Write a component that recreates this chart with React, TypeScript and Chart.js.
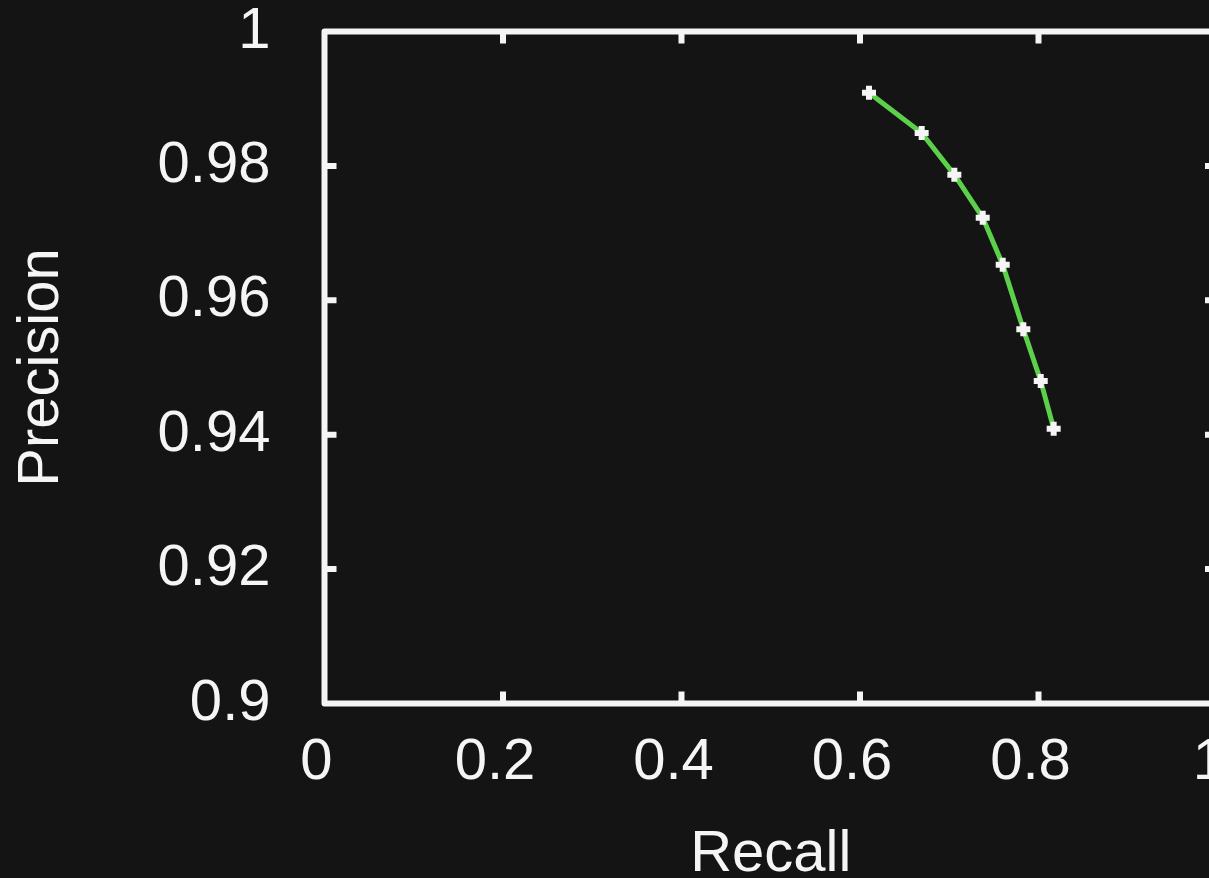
import React, { useEffect, useRef } from "react";
import { Chart, registerables } from "chart.js";

Chart.register(...registerables);

const recall = [0.6101, 0.6691, 0.7057, 0.7375, 0.7599, 0.783, 0.8025, 0.817];
const precision = [0.9909, 0.9849, 0.9787, 0.9723, 0.9653, 0.9557, 0.948, 0.9409];
const xTicks = [0, 0.2, 0.4, 0.6, 0.8, 1];
const yTicks = [0.9, 0.92, 0.94, 0.96, 0.98, 1];
const xTitle = "Recall";
const yTitle = "Precision";

const BG = "#141414";
const FG = "#f5f5f5";
const GREEN = "#5ccf4b";
const FONT = "'Liberation Sans', Arial, Helvetica, sans-serif";
const W = 1300;
const H = 900;

const framePlugin = {
  id: "frame",
  beforeDraw(chart: any) {
    const { ctx } = chart;
    ctx.save();
    ctx.fillStyle = BG;
    ctx.fillRect(0, 0, chart.width, chart.height);
    ctx.restore();
  },
  beforeDatasetsDraw(chart: any) {
    const { ctx, chartArea } = chart;
    const { left, right, top, bottom } = chartArea;
    const xs = chart.scales.x;
    const ys = chart.scales.y;
    const tl = 12;
    ctx.save();
    ctx.strokeStyle = FG;
    ctx.lineWidth = 6;
    ctx.lineCap = "butt";
    ctx.beginPath();
    xTicks.forEach((v) => {
      const px = xs.getPixelForValue(v);
      if (v === xTicks[0] || v === xTicks[xTicks.length - 1]) return;
      ctx.moveTo(px, bottom);
      ctx.lineTo(px, bottom - tl);
      ctx.moveTo(px, top);
      ctx.lineTo(px, top + tl);
    });
    yTicks.forEach((v) => {
      const py = ys.getPixelForValue(v);
      if (v === yTicks[0] || v === yTicks[yTicks.length - 1]) return;
      ctx.moveTo(left, py);
      ctx.lineTo(left + tl, py);
      ctx.moveTo(right, py);
      ctx.lineTo(right - tl, py);
    });
    ctx.stroke();
    ctx.lineJoin = "round";
    ctx.strokeRect(left, top, right - left, bottom - top);
    ctx.restore();
  },
};

export default function App() {
  const ref = useRef<HTMLCanvasElement | null>(null);
  useEffect(() => {
    if (!ref.current) return;
    const chart = new Chart(ref.current, {
      type: "line",
      data: {
        datasets: [
          {
            data: recall.map((r, i) => ({ x: r, y: precision[i] })),
            borderColor: GREEN,
            borderWidth: 5,
            backgroundColor: FG,
            pointStyle: "cross",
            pointRadius: 7,
            pointBorderWidth: 6,
            pointBorderColor: FG,
            pointBackgroundColor: FG,
            tension: 0,
            fill: false,
          },
        ],
      },
      options: {
        responsive: false,
        animation: false,
        events: [],
        layout: { padding: { top: 31.5, right: W - 1217, left: 0, bottom: 0 } },
        plugins: { legend: { display: false }, tooltip: { enabled: false } },
        scales: {
          x: {
            type: "linear",
            min: 0,
            max: 1,
            afterBuildTicks: (s: any) => {
              s.ticks = xTicks.map((v) => ({ value: v }));
            },
            afterFit: (s: any) => {
              s.height = H - 703.5;
              s.paddingLeft = 0;
              s.paddingRight = 0;
            },
            grid: { display: false, drawTicks: false },
            border: { display: false },
            ticks: {
              color: FG,
              font: { family: FONT, size: 58 },
              padding: 25,
              labelOffset: -8,
              maxRotation: 0,
              autoSkip: false,
              callback: (v: any) => String(Number(Number(v).toFixed(2))),
            },
            title: {
              display: true,
              text: xTitle,
              color: FG,
              font: { family: FONT, size: 58 },
              padding: { top: 0, bottom: 10 },
            },
          },
          y: {
            type: "linear",
            min: 0.9,
            max: 1,
            afterBuildTicks: (s: any) => {
              s.ticks = yTicks.map((v) => ({ value: v }));
            },
            afterFit: (s: any) => {
              s.width = 324.5;
              s.paddingTop = 0;
              s.paddingBottom = 0;
            },
            grid: { display: false, drawTicks: false },
            border: { display: false },
            ticks: {
              color: FG,
              font: { family: FONT, size: 58 },
              padding: 54,
              autoSkip: false,
              callback: (v: any) => String(Number(Number(v).toFixed(2))),
            },
            title: {
              display: true,
              text: yTitle,
              color: FG,
              font: { family: FONT, size: 58 },
              padding: { top: 7, bottom: 0 },
            },
          },
        },
      },
      plugins: [framePlugin],
    });
    return () => chart.destroy();
  }, []);
  return (
    <div
      style={{
        position: "fixed",
        left: 0,
        top: 0,
        width: 1209,
        height: 878,
        overflow: "hidden",
        background: BG,
      }}
    >
      <canvas
        ref={ref}
        width={W}
        height={H}
        style={{ position: "absolute", left: 0, top: 0, width: W, height: H }}
      />
    </div>
  );
}
